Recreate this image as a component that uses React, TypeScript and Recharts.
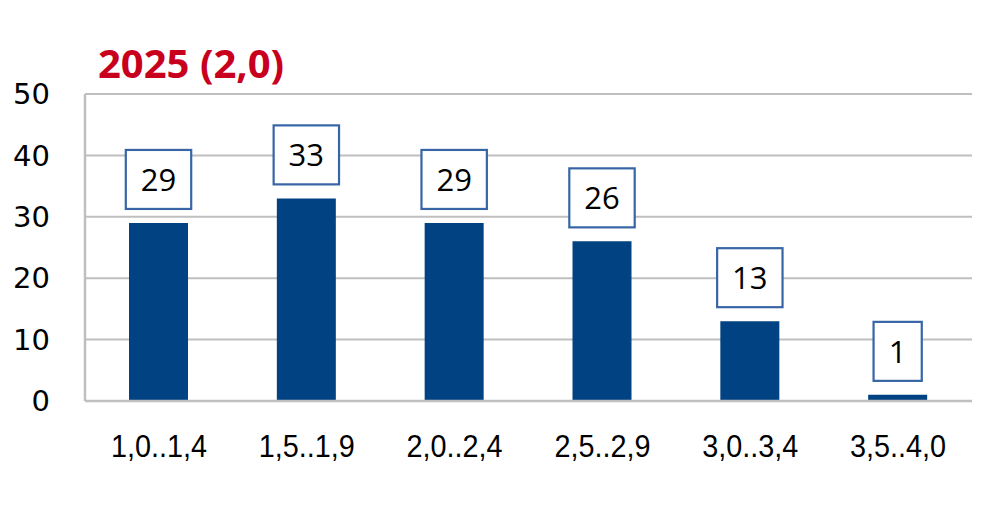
import React from 'react';
import { BarChart, Bar, XAxis, YAxis, CartesianGrid, LabelList } from 'recharts';

const categories = ['1,0..1,4', '1,5..1,9', '2,0..2,4', '2,5..2,9', '3,0..3,4', '3,5..4,0'];
const counts = [29, 33, 29, 26, 13, 1];
const yTicks = [0, 10, 20, 30, 40, 50];
const title = '2025 (2,0)';

const data = categories.map((c, i) => ({ name: c, value: counts[i] }));

const BoxLabel = (props: any) => {
  const { x, y, width, value } = props;
  const s = String(value);
  const w = s.length * 17.2 + 31;
  const h = 59;
  const cx = x + width / 2;
  const bottom = y - 14;
  return (
    <g>
      <rect x={cx - w / 2} y={bottom - h} width={w} height={h} fill="#ffffff" stroke="#3765a5" strokeWidth={2.2} />
      <text x={cx} y={bottom - h / 2} dy="0.36em" textAnchor="middle" fontFamily="Open Sans" fontSize={31} fill="#000">
        {s}
      </text>
    </g>
  );
};

const NarrowTick = (props: any) => {
  const { x, y, payload } = props;
  return (
    <text
      transform={`translate(${x},${y}) scale(0.9,1)`}
      textAnchor="middle"
      dy="0.71em"
      fontFamily="Liberation Sans"
      fontSize={32}
      fill="#000"
    >
      {payload.value}
    </text>
  );
};

export default function App() {
  return (
    <div style={{ position: 'absolute', left: 0, top: 0, width: 995, height: 514, background: '#fff' }}>
      <BarChart width={995} height={514} data={data} margin={{ top: 94, right: 23, bottom: 0, left: 0 }}>
        <CartesianGrid vertical={false} stroke="#bfbfbf" strokeWidth={2} />
        <XAxis
          dataKey="name"
          height={113}
          axisLine={{ stroke: '#bfbfbf', strokeWidth: 2.5 }}
          tickLine={false}
          tickSize={0}
          tickMargin={33}
          interval={0}
          tick={<NarrowTick />}
        />
        <XAxis xAxisId="top" dataKey="name" orientation="top" height={0} tick={false} tickLine={false} axisLine={{ stroke: '#bfbfbf', strokeWidth: 2.5 }} />
        <YAxis
          domain={[0, 50]}
          ticks={yTicks}
          width={85}
          axisLine={{ stroke: '#bfbfbf', strokeWidth: 2.5 }}
          tickLine={false}
          tickSize={0}
          tickMargin={35}
          interval={0}
          tick={{ fill: '#000', fontSize: 29, fontFamily: 'DejaVu Sans' }}
        />
        <YAxis yAxisId="right" orientation="right" width={0} domain={[0, 50]} tick={false} tickLine={false} axisLine={{ stroke: '#bfbfbf', strokeWidth: 2.5 }} />
        <Bar dataKey="value" fill="#004282" barSize={59} isAnimationActive={false}>
          <LabelList dataKey="value" content={BoxLabel} />
        </Bar>
      </BarChart>
      <svg width={995} height={514} style={{ position: 'absolute', left: 0, top: 0, pointerEvents: 'none' }}>
        <text x={98} y={78} fontFamily="Open Sans" fontWeight="bold" fontSize={40} fill="#c8001e">
          {title}
        </text>
      </svg>
    </div>
  );
}
